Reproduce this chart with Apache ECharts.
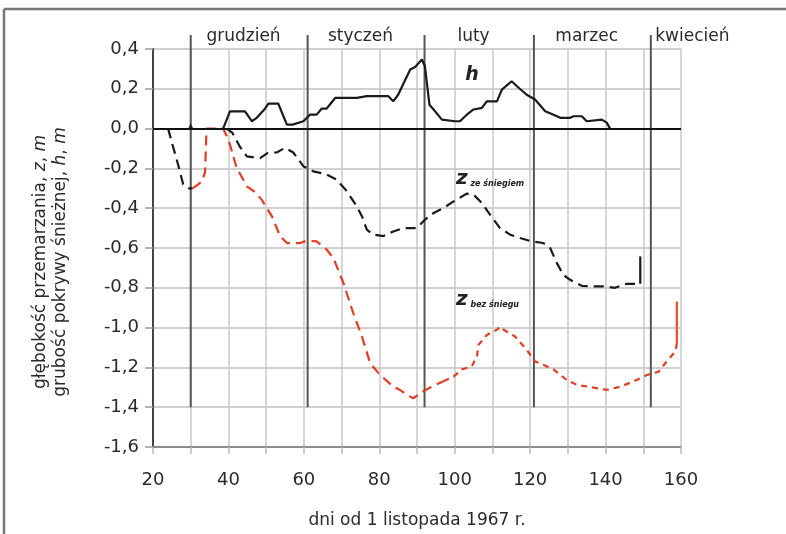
<!DOCTYPE html>
<html><head><meta charset="utf-8">
<script src="https://cdn.jsdelivr.net/npm/echarts@6/dist/echarts.min.js"></script>
<style>html,body{margin:0;padding:0;background:#fff}#c{width:786px;height:534px}</style>
</head><body><div id="c"></div>
<script>
// ---- data ----
var hDays = [38.6, 40.4, 44.4, 46.2, 47.5, 49.7, 50.6, 53.2, 55.5, 57, 59.9, 61.6, 63.4, 64.7, 66, 68.3, 74, 76.7, 82.4, 83.7, 85, 88.2, 89.5, 91.3, 92.1, 93.3, 94.4, 96.6, 100.1, 101.4, 103.2, 105, 107.2, 108.5, 111.2, 112.5, 115.1, 116.5, 119.1, 121.3, 124, 126.2, 128, 130.6, 131.5, 133.7, 135, 139, 140.3, 141.2];
var hVals = [0, 0.087, 0.087, 0.037, 0.054, 0.10, 0.126, 0.126, 0.02, 0.02, 0.037, 0.07, 0.07, 0.10, 0.10, 0.154, 0.154, 0.163, 0.163, 0.137, 0.17, 0.297, 0.31, 0.347, 0.313, 0.12, 0.096, 0.045, 0.037, 0.037, 0.07, 0.096, 0.104, 0.137, 0.137, 0.196, 0.238, 0.213, 0.17, 0.146, 0.087, 0.07, 0.054, 0.054, 0.062, 0.062, 0.037, 0.045, 0.03, 0.0];
var hDotDay = [30];
var hDotVal = [0.012];

var zSnowDays = [24, 25, 26.5, 28, 29.5, 30.5, 35, 39.5, 41, 43, 44.9, 48.4, 50.6, 52.8, 55, 57.2, 59.9, 62.5, 66, 68.7, 71.4, 74, 75.4, 76.7, 78.4, 81.1, 83.7, 86.4, 89.9, 92.1, 94.4, 97, 99.7, 103.2, 105, 107.2, 109.4, 112, 114.7, 117.3, 120.4, 123.5, 125.3, 127.1, 128.8, 130.6, 133.7, 136.8, 139.9, 142.5, 145.6, 148.7];
var zSnowVals = [0, -0.07, -0.17, -0.28, -0.30, -0.30, null, 0, -0.02, -0.09, -0.14, -0.148, -0.12, -0.12, -0.097, -0.12, -0.19, -0.215, -0.23, -0.257, -0.315, -0.39, -0.44, -0.508, -0.533, -0.54, -0.517, -0.50, -0.50, -0.458, -0.424, -0.399, -0.366, -0.327, -0.332, -0.374, -0.433, -0.50, -0.533, -0.55, -0.567, -0.575, -0.60, -0.676, -0.735, -0.76, -0.79, -0.793, -0.793, -0.80, -0.78, -0.78];
var zSnowEndDays = [149.2, 149.2];
var zSnowEndVals = [-0.78, -0.642];

var zBareDays = [30.5, 32, 33, 33.8, 34.2, 38.6, 40, 42.2, 44.9, 47.1, 48.8, 51.5, 53.7, 55.5, 59, 60.8, 63.4, 66.1, 67.8, 70.5, 73.1, 75.4, 77.6, 80.2, 83.7, 85.5, 87.3, 89, 91.7, 93.9, 97, 99.7, 101.9, 104.5, 105.9, 106.3, 108.5, 111.2, 112.1, 113, 116, 119.1, 121.3, 123.5, 126.2, 129.7, 132.4, 136.4, 140.3, 143.9, 147.4, 151, 154.1, 156.2, 158.5, 158.9];
var zBareVals = [-0.30, -0.28, -0.265, -0.22, 0, 0, -0.055, -0.198, -0.29, -0.32, -0.357, -0.44, -0.54, -0.575, -0.575, -0.563, -0.567, -0.609, -0.65, -0.776, -0.927, -1.045, -1.18, -1.238, -1.297, -1.313, -1.338, -1.355, -1.32, -1.297, -1.27, -1.246, -1.21, -1.196, -1.145, -1.087, -1.037, -1.011, -0.995, -1.011, -1.045, -1.112, -1.17, -1.187, -1.21, -1.263, -1.288, -1.30, -1.313, -1.297, -1.27, -1.238, -1.221, -1.17, -1.12, -1.078];
var zBareEndDays = [158.9, 158.9];
var zBareEndVals = [-1.078, -0.869];

var monthStarts = [30, 61, 92, 121, 152];
var monthNames = ['grudzień', 'styczeń', 'luty', 'marzec', 'kwiecień'];
var xTicks = [20, 40, 60, 80, 100, 120, 140, 160];
var yTicks = [0.4, 0.2, 0.0, -0.2, -0.4, -0.6, -0.8, -1.0, -1.2, -1.4, -1.6];

function pairs(xs, ys) { return xs.map(function (x, i) { return [x, ys[i]]; }); }
var redSplit = 30; // index where dash pattern becomes shorter
var bare = pairs(zBareDays, zBareVals);

var FONT = '"DejaVu Sans", Arial, sans-serif';
var chart = echarts.init(document.getElementById('c'), null, {renderer: 'canvas'});
var option = {
  animation: false,
  backgroundColor: '#fff',
  grid: {left: 153, right: 105, top: 49, bottom: 87, containLabel: false},
  xAxis: {
    type: 'value', min: 20, max: 160, interval: 10,
    axisLine: {show: true, onZero: false, lineStyle: {color: '#777', width: 1.5}},
    axisTick: {show: true, length: 7, lineStyle: {color: '#bbb', width: 1.5}},
    axisLabel: {margin: 24, color: '#2a2a2a', fontSize: 18, fontFamily: FONT,
      formatter: function (v) { return xTicks.indexOf(v) >= 0 ? String(v) : ''; }},
    splitLine: {show: true, lineStyle: {color: '#c8c8c8', width: 1.5}},
    name: 'dni od 1 listopada 1967 r.', nameLocation: 'middle', nameGap: 65,
    nameTextStyle: {color: '#2a2a2a', fontSize: 17, fontFamily: FONT}
  },
  yAxis: {
    type: 'value', min: -1.6, max: 0.4, interval: 0.2,
    axisLine: {show: true, onZero: false, lineStyle: {color: '#444', width: 2}},
    axisTick: {show: true, length: 8, lineStyle: {color: '#999', width: 1.5}},
    axisLabel: {margin: 14, color: '#2a2a2a', fontSize: 18, fontFamily: FONT,
      formatter: function (v) {
        var r = Math.round(v * 10) / 10;
        var found = yTicks.some(function (t) { return Math.abs(t - r) < 1e-9; });
        return found ? r.toFixed(1).replace('.', ',') : '';
      }},
    splitLine: {show: true, lineStyle: {color: '#c0c0c0', width: 1.5}}
  },
  series: [
    {type: 'line', name: 'h', data: pairs(hDays, hVals), symbol: 'none', z: 5,
      lineStyle: {color: '#1a1a1a', width: 2.2},
      markLine: {silent: true, symbol: 'none', label: {show: false},
        lineStyle: {color: '#111', width: 2.2, type: 'solid'}, data: [{yAxis: 0}]}},
    {type: 'scatter', data: pairs(hDotDay, hDotVal), symbol: 'triangle', symbolSize: 6,
      itemStyle: {color: '#111'}, z: 6},
    {type: 'line', name: 'z ze śniegiem', data: pairs(zSnowDays, zSnowVals), symbol: 'none',
      connectNulls: false, z: 4,
      lineStyle: {color: '#1a1a1a', width: 2.2, type: [10, 6]}},
    {type: 'line', data: pairs(zSnowEndDays, zSnowEndVals), symbol: 'none', z: 4,
      lineStyle: {color: '#1a1a1a', width: 2.2}},
    {type: 'line', name: 'z bez śniegu', data: bare.slice(0, redSplit + 1), symbol: 'none', z: 4,
      lineStyle: {color: '#e53d25', width: 2.2, type: [10, 6]}},
    {type: 'line', data: bare.slice(redSplit), symbol: 'none', z: 4,
      lineStyle: {color: '#e53d25', width: 2.2, type: [6, 5]}},
    {type: 'line', data: pairs(zBareEndDays, zBareEndVals), symbol: 'none', z: 4,
      lineStyle: {color: '#e8502f', width: 2.2}}
  ]
};
chart.setOption(option);

// month separators and labels, computed from data coordinates
var g = [];
var topY = chart.convertToPixel({gridIndex: 0}, [20, 0.4])[1] - 14;
var botY = chart.convertToPixel({gridIndex: 0}, [20, -1.4])[1];
monthStarts.forEach(function (d, i) {
  var x = chart.convertToPixel({gridIndex: 0}, [d, 0])[0];
  g.push({type: 'line', shape: {x1: x, y1: topY, x2: x, y2: botY}, z: 3,
    style: {stroke: '#555', lineWidth: 2}});
  var next = i < monthStarts.length - 1 ? monthStarts[i + 1] : d + 25;
  var cx = chart.convertToPixel({gridIndex: 0}, [(d + next) / 2 - 1.5, 0])[0];
  g.push({type: 'text', x: cx, y: topY + 2, z: 10,
    style: {text: monthNames[i], fill: '#2a2a2a', font: '17px ' + FONT, align: 'center', verticalAlign: 'middle'}});
});
// y-axis title (two lines, rotated)
var yTitleLines = [
  '{a|głębokość przemarzania, }{i|z}{a|, }{i|m}',
  '{a|grubość pokrywy śnieżnej, }{i|h}{a|, }{i|m}'
];
yTitleLines.forEach(function (t, i) {
  g.push({type: 'text', x: 41 + i * 20, y: 262, rotation: Math.PI / 2, z: 10,
    style: {
      text: t, align: 'center', verticalAlign: 'middle',
      rich: {a: {fontSize: 17, fontFamily: FONT, fill: '#2a2a2a'},
             i: {fontSize: 17, fontFamily: FONT, fontStyle: 'italic', fill: '#2a2a2a'}}
    }});
});
// series annotations
g.push({type: 'text', x: 472, y: 75, z: 10,
  style: {text: 'h', font: 'italic bold 19px ' + FONT, fill: '#222', align: 'center', verticalAlign: 'middle'}});
g.push({type: 'text', x: 456, y: 179, z: 10,
  style: {text: '{z|z}{s| ze śniegiem}', verticalAlign: 'middle',
    rich: {z: {font: 'italic bold 20px ' + FONT, fill: '#222'},
           s: {font: 'italic bold 8px ' + FONT, fill: '#222', padding: [10, 0, 0, 0]}}}});
g.push({type: 'text', x: 456, y: 300, z: 10,
  style: {text: '{z|z}{s| bez śniegu}', verticalAlign: 'middle',
    rich: {z: {font: 'italic bold 20px ' + FONT, fill: '#222'},
           s: {font: 'italic bold 8px ' + FONT, fill: '#222', padding: [10, 0, 0, 0]}}}});
// outer frame (top and left edges)
g.push({type: 'line', shape: {x1: 4, y1: 9, x2: 786, y2: 9}, style: {stroke: '#777', lineWidth: 2.5}, z: 10});
g.push({type: 'line', shape: {x1: 4, y1: 9, x2: 4, y2: 534}, style: {stroke: '#777', lineWidth: 2.5}, z: 10});
chart.setOption({graphic: g});
</script></body></html>
